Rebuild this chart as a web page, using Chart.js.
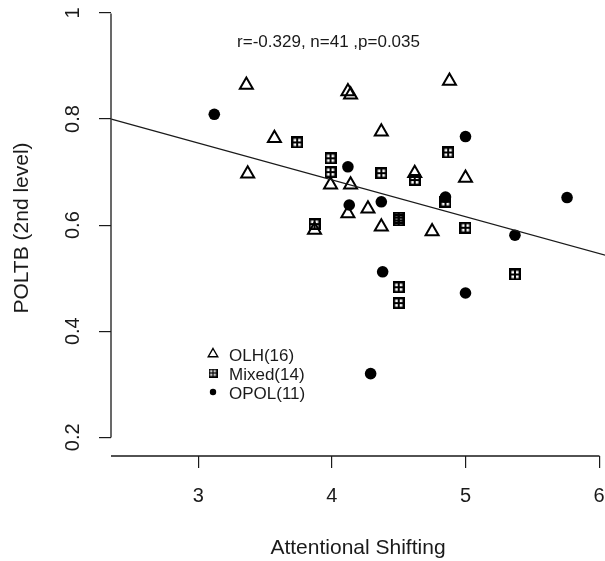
<!DOCTYPE html>
<html>
<head>
<meta charset="utf-8">
<script src="https://cdn.jsdelivr.net/npm/chart.js@4.4.1/dist/chart.umd.min.js"></script>
<style>
  html, body { margin: 0; padding: 0; background: #fff; }
  canvas { display: block; }
</style>
</head>
<body>
<canvas id="myChart" width="605" height="561"></canvas>
<script>
// OLH group (open triangles)
const olhX = [3.36, 3.37, 3.57, 4.12, 4.14, 4.88, 4.37, 5.00, 3.99, 4.14, 4.27, 4.37, 4.12, 4.75, 4.62, 3.87];
const olhY = [0.864, 0.697, 0.764, 0.852, 0.846, 0.872, 0.776, 0.689, 0.676, 0.676, 0.631, 0.597, 0.622, 0.588, 0.698, 0.591];
// Mixed group (square with plus)
const mixX = [3.74, 3.99, 3.99, 3.87, 4.87, 4.37, 4.62, 4.85, 4.50, 4.50, 5.00, 4.50, 4.50, 5.37];
const mixY = [0.756, 0.726, 0.700, 0.602, 0.737, 0.698, 0.685, 0.644, 0.614, 0.609, 0.595, 0.483, 0.453, 0.507];
// OPOL group (filled circles)
const opolX = [3.12, 4.12, 4.13, 4.37, 5.00, 5.76, 5.37, 4.38, 5.00, 4.29, 4.85];
const opolY = [0.809, 0.710, 0.638, 0.644, 0.767, 0.652, 0.581, 0.512, 0.472, 0.320, 0.653];

// fitted regression line, read at the plot edges
const fitX = [2.35, 6.05];
const fitY = [0.800, 0.543];

const xTicks = [3, 4, 5, 6];
const yTicks = [0.2, 0.4, 0.6, 0.8, 1];
const groupLabels = ['OLH(16)', 'Mixed(14)', 'OPOL(11)'];
const statText = 'r=-0.329, n=41 ,p=0.035';

const fam = "'Liberation Sans', Arial, sans-serif";
const ink = '#1a1a1a';

function toPoints(xs, ys) {
  return xs.map((v, i) => ({ x: v, y: ys[i] }));
}

// square with a plus inside (R pch 12)
function boxPlus(size, lw, lw2) {
  const c = document.createElement('canvas');
  c.width = size; c.height = size;
  const g = c.getContext('2d');
  g.strokeStyle = '#000';
  g.lineWidth = lw;
  g.strokeRect(lw / 2, lw / 2, size - lw, size - lw);
  g.lineWidth = lw2;
  g.beginPath();
  g.moveTo(size / 2, 0); g.lineTo(size / 2, size);
  g.moveTo(0, size / 2); g.lineTo(size, size / 2);
  g.stroke();
  return c;
}
const boxBig = boxPlus(12, 2.4, 2);
const boxSmall = boxPlus(9, 1.6, 1.4);

const axisLines = {
  id: 'axisLines',
  afterDraw(chart) {
    const { ctx, chartArea } = chart;
    const x = chart.scales.x, y = chart.scales.y;
    ctx.save();
    ctx.strokeStyle = ink;
    ctx.lineWidth = 1.3;
    ctx.beginPath();
    ctx.moveTo(chartArea.left, Math.round(y.getPixelForValue(yTicks[0])) + 0.5);
    ctx.lineTo(chartArea.left, Math.round(y.getPixelForValue(yTicks[yTicks.length - 1])) + 0.5);
    ctx.moveTo(chartArea.left, chartArea.bottom);
    ctx.lineTo(Math.round(x.getPixelForValue(xTicks[xTicks.length - 1])) + 0.5, chartArea.bottom);
    ctx.stroke();

    // r / n / p text
    ctx.fillStyle = ink;
    ctx.font = '17px ' + fam;
    ctx.textAlign = 'center';
    ctx.textBaseline = 'middle';
    ctx.fillText(statText, x.getPixelForValue(3.975), y.getPixelForValue(0.945));

    // legend
    const lx = 213, rows = [354, 373, 392];
    ctx.lineWidth = 1.4;
    ctx.strokeStyle = '#000';
    ctx.beginPath();
    const r = 5.5;
    for (let k = 0; k < 3; k++) {
      const a = k * 2 * Math.PI / 3;
      const px = lx + Math.sin(a) * r, py = rows[0] - Math.cos(a) * r;
      if (k === 0) ctx.moveTo(px, py); else ctx.lineTo(px, py);
    }
    ctx.closePath();
    ctx.stroke();
    ctx.drawImage(boxSmall, lx - 4.5, rows[1] - 4.5);
    ctx.fillStyle = '#000';
    ctx.beginPath();
    ctx.arc(lx, rows[2], 3.2, 0, Math.PI * 2);
    ctx.fill();

    ctx.fillStyle = ink;
    ctx.textAlign = 'left';
    for (let i = 0; i < groupLabels.length; i++) {
      ctx.fillText(groupLabels[i], 229, rows[i] + 2);
    }
    ctx.restore();
  }
};

const data = {
  datasets: [
    {
      type: 'line',
      label: 'fit',
      data: toPoints(fitX, fitY),
      borderColor: ink,
      borderWidth: 1.2,
      pointRadius: 0,
      fill: false,
      order: 0
    },
    {
      label: 'OPOL',
      data: toPoints(opolX, opolY),
      pointStyle: 'circle',
      pointRadius: 5.8,
      backgroundColor: '#000',
      borderColor: '#000',
      borderWidth: 0,
      order: 1
    },
    {
      label: 'Mixed',
      data: toPoints(mixX, mixY),
      pointStyle: boxBig,
      order: 2
    },
    {
      label: 'OLH',
      data: toPoints(olhX, olhY),
      pointStyle: 'triangle',
      pointRadius: 7.5,
      backgroundColor: 'rgba(0,0,0,0)',
      borderColor: '#000',
      borderWidth: 2,
      order: 3
    }
  ]
};

const config = {
  type: 'scatter',
  data: data,
  options: {
    responsive: false,
    animation: false,
    devicePixelRatio: 1,
    layout: { padding: 0, autoPadding: false },
    plugins: { legend: { display: false }, tooltip: { enabled: false } },
    scales: {
      x: {
        type: 'linear',
        min: 2.347,
        max: 6.044,
        afterBuildTicks: s => { s.ticks = xTicks.map(v => ({ value: v })); },
        afterFit: s => { s.height = 105; s.paddingLeft = 0; s.paddingRight = 0; },
        grid: { drawOnChartArea: false, drawTicks: true, tickLength: 12, color: ink, lineWidth: 1.2 },
        border: { display: false },
        ticks: {
          autoSkip: false, maxRotation: 0, padding: 16, color: ink,
          font: { family: fam, size: 20 },
          callback: v => String(v)
        },
        title: {
          display: true, text: 'Attentional Shifting', color: ink,
          font: { family: fam, size: 21 }, padding: { top: 0, bottom: 0 }
        }
      },
      y: {
        type: 'linear',
        min: 0.1647,
        max: 1.0245,
        afterBuildTicks: s => { s.ticks = yTicks.map(v => ({ value: v })); },
        afterFit: s => { s.width = 111; s.paddingTop = 0; s.paddingBottom = 0; },
        grid: { drawOnChartArea: false, drawTicks: true, tickLength: 12, color: ink, lineWidth: 1.2 },
        border: { display: false },
        ticks: {
          autoSkip: false, minRotation: 90, maxRotation: 90, crossAlign: 'center',
          padding: 12, color: ink,
          font: { family: fam, size: 20 },
          callback: v => String(v)
        },
        title: {
          display: true, text: 'POLTB (2nd level)', color: ink,
          font: { family: fam, size: 21 }, padding: { top: 10, bottom: 0 }
        }
      }
    }
  },
  plugins: [axisLines]
};

const myChart = new Chart(document.getElementById('myChart'), config);
</script>
</body>
</html>
